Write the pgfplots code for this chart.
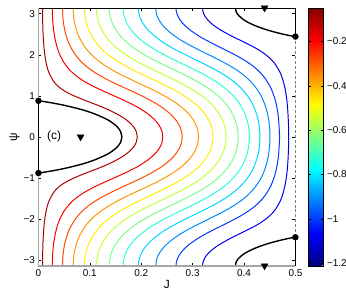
\documentclass[border=0pt]{standalone}
\usepackage{fontspec}
\setmainfont{Liberation Sans}
\usepackage{pgfplots}
\usepackage{pgfplotstable}
\pgfplotsset{compat=1.18}
\pgfplotsset{/pgf/number format/assume math mode=true,
  every tick label/.append style={font=\fontsize{10bp}{12bp}\selectfont}}
\definecolor{c1}{rgb}{0.66,0,0}
\definecolor{c2}{rgb}{0.972,0,0}
\definecolor{c3}{rgb}{1,0.284,0}
\definecolor{c4}{rgb}{1,0.596,0}
\definecolor{c5}{rgb}{1,0.93,0}
\definecolor{c6}{rgb}{0.78,1,0.22}
\definecolor{c7}{rgb}{0.468,1,0.532}
\definecolor{c8}{rgb}{0.156,1,0.844}
\definecolor{c9}{rgb}{0,0.844,1}
\definecolor{c10}{rgb}{0,0.532,1}
\definecolor{c11}{rgb}{0,0.22,1}
\definecolor{c12}{rgb}{0,0,0.908}
\begin{document}
\pgfplotstableread[row sep=\\]{J p\\
0.00794 3.1416\\ 0.008 2.983\\ 0.0085 2.674\\ 0.009 2.511\\ 0.010 2.296\\ 0.012 2.033\\ 0.015 1.801\\ 0.020 1.577\\ 0.030 1.344\\ 0.040 1.214\\ 0.050 1.124\\ 0.060 1.055\\ 0.070 0.996\\ 0.080 0.943\\ 0.090 0.893\\ 0.100 0.843\\ 0.110 0.797\\ 0.120 0.748\\ 0.130 0.695\\ 0.140 0.639\\ 0.150 0.576\\ 0.160 0.506\\ 0.170 0.425\\ 0.180 0.319\\ 0.185 0.246\\ 0.190 0.141\\ 0.1923 0\\
}\LA
\pgfplotstableread[row sep=\\]{J p\\
0.02695 3.1416\\ 0.027 3.048\\ 0.028 2.787\\ 0.030 2.554\\ 0.033 2.345\\ 0.037 2.156\\ 0.042 1.990\\ 0.050 1.804\\ 0.060 1.642\\ 0.070 1.523\\ 0.080 1.427\\ 0.090 1.346\\ 0.100 1.276\\ 0.110 1.212\\ 0.120 1.152\\ 0.130 1.095\\ 0.140 1.039\\ 0.150 0.984\\ 0.160 0.928\\ 0.170 0.869\\ 0.180 0.808\\ 0.190 0.744\\ 0.200 0.671\\ 0.210 0.588\\ 0.220 0.490\\ 0.230 0.365\\ 0.235 0.280\\ 0.240 0.149\\ 0.2419 0\\
}\LB
\pgfplotstableread[row sep=\\]{J p\\
0.04675 3.1416\\ 0.047 3.004\\ 0.048 2.847\\ 0.050 2.676\\ 0.053 2.509\\ 0.057 2.352\\ 0.062 2.206\\ 0.070 2.034\\ 0.080 1.876\\ 0.090 1.753\\ 0.100 1.653\\ 0.110 1.567\\ 0.120 1.491\\ 0.130 1.422\\ 0.140 1.358\\ 0.150 1.297\\ 0.160 1.239\\ 0.170 1.181\\ 0.180 1.124\\ 0.190 1.066\\ 0.200 1.006\\ 0.210 0.943\\ 0.220 0.876\\ 0.230 0.804\\ 0.240 0.723\\ 0.250 0.629\\ 0.260 0.517\\ 0.270 0.367\\ 0.275 0.257\\ 0.279 0.102\\ 0.2797 0\\
}\LC
\pgfplotstableread[row sep=\\]{J p\\
0.06753 3.1416\\ 0.068 2.989\\ 0.069 2.877\\ 0.071 2.740\\ 0.075 2.559\\ 0.080 2.409\\ 0.090 2.196\\ 0.100 2.043\\ 0.110 1.922\\ 0.120 1.821\\ 0.130 1.734\\ 0.140 1.656\\ 0.150 1.585\\ 0.160 1.519\\ 0.170 1.457\\ 0.180 1.397\\ 0.190 1.338\\ 0.200 1.280\\ 0.210 1.221\\ 0.220 1.161\\ 0.230 1.099\\ 0.240 1.034\\ 0.250 0.965\\ 0.260 0.889\\ 0.270 0.805\\ 0.280 0.708\\ 0.290 0.592\\ 0.300 0.439\\ 0.305 0.333\\ 0.310 0.166\\ 0.3116 0\\
}\LD
\pgfplotstableread[row sep=\\]{J p\\
0.08943 3.1416\\ 0.090 2.998\\ 0.091 2.906\\ 0.093 2.788\\ 0.097 2.632\\ 0.100 2.546\\ 0.110 2.334\\ 0.120 2.183\\ 0.130 2.062\\ 0.140 1.963\\ 0.150 1.874\\ 0.160 1.795\\ 0.170 1.724\\ 0.180 1.657\\ 0.190 1.593\\ 0.200 1.533\\ 0.220 1.414\\ 0.240 1.295\\ 0.250 1.233\\ 0.260 1.169\\ 0.270 1.101\\ 0.280 1.027\\ 0.290 0.946\\ 0.300 0.854\\ 0.310 0.749\\ 0.320 0.618\\ 0.330 0.440\\ 0.335 0.309\\ 0.339 0.122\\ 0.3397 0\\
}\LE
\pgfplotstableread[row sep=\\]{J p\\
0.1127 3.1416\\ 0.113 3.044\\ 0.115 2.885\\ 0.118 2.757\\ 0.123 2.614\\ 0.130 2.468\\ 0.140 2.314\\ 0.150 2.192\\ 0.160 2.090\\ 0.170 2.001\\ 0.180 1.923\\ 0.190 1.850\\ 0.200 1.782\\ 0.210 1.718\\ 0.220 1.657\\ 0.230 1.597\\ 0.240 1.538\\ 0.250 1.478\\ 0.260 1.418\\ 0.270 1.356\\ 0.280 1.292\\ 0.290 1.223\\ 0.300 1.150\\ 0.310 1.070\\ 0.320 0.981\\ 0.330 0.878\\ 0.340 0.754\\ 0.350 0.596\\ 0.355 0.492\\ 0.360 0.354\\ 0.363 0.230\\ 0.365 0.062\\ 0.3651 0\\
}\LF
\pgfplotstableread[row sep=\\]{J p\\
0.1376 3.1416\\ 0.138 3.043\\ 0.140 2.906\\ 0.143 2.791\\ 0.148 2.660\\ 0.155 2.528\\ 0.165 2.384\\ 0.180 2.219\\ 0.190 2.128\\ 0.200 2.047\\ 0.210 1.974\\ 0.220 1.905\\ 0.230 1.840\\ 0.240 1.778\\ 0.250 1.718\\ 0.260 1.658\\ 0.270 1.598\\ 0.280 1.537\\ 0.290 1.475\\ 0.300 1.410\\ 0.310 1.342\\ 0.320 1.269\\ 0.330 1.188\\ 0.340 1.099\\ 0.350 0.996\\ 0.360 0.874\\ 0.370 0.720\\ 0.375 0.622\\ 0.380 0.501\\ 0.385 0.328\\ 0.388 0.136\\ 0.3886 0\\
}\LG
\pgfplotstableread[row sep=\\]{J p\\
0.1646 3.1416\\ 0.165 3.053\\ 0.167 2.928\\ 0.170 2.823\\ 0.175 2.702\\ 0.183 2.563\\ 0.195 2.410\\ 0.210 2.261\\ 0.220 2.178\\ 0.230 2.102\\ 0.240 2.032\\ 0.250 1.966\\ 0.260 1.903\\ 0.270 1.841\\ 0.280 1.781\\ 0.290 1.721\\ 0.300 1.660\\ 0.310 1.597\\ 0.320 1.532\\ 0.330 1.463\\ 0.340 1.389\\ 0.350 1.308\\ 0.360 1.218\\ 0.370 1.113\\ 0.380 0.988\\ 0.390 0.831\\ 0.395 0.733\\ 0.400 0.613\\ 0.405 0.450\\ 0.408 0.306\\ 0.410 0.134\\ 0.4105 0\\
}\LH
\pgfplotstableread[row sep=\\]{J p\\
0.1944 3.1416\\ 0.195 3.037\\ 0.197 2.935\\ 0.200 2.842\\ 0.205 2.733\\ 0.213 2.607\\ 0.225 2.464\\ 0.240 2.323\\ 0.250 2.244\\ 0.260 2.171\\ 0.270 2.103\\ 0.280 2.038\\ 0.290 1.976\\ 0.300 1.915\\ 0.310 1.854\\ 0.320 1.793\\ 0.330 1.730\\ 0.340 1.664\\ 0.350 1.595\\ 0.360 1.520\\ 0.370 1.438\\ 0.380 1.346\\ 0.390 1.238\\ 0.400 1.109\\ 0.410 0.943\\ 0.415 0.838\\ 0.420 0.709\\ 0.425 0.535\\ 0.428 0.385\\ 0.430 0.226\\ 0.4311 0\\
}\LI
\pgfplotstableread[row sep=\\]{J p\\
0.228 3.1416\\ 0.230 2.978\\ 0.233 2.884\\ 0.238 2.781\\ 0.245 2.672\\ 0.255 2.554\\ 0.270 2.415\\ 0.280 2.336\\ 0.290 2.264\\ 0.300 2.197\\ 0.310 2.133\\ 0.320 2.070\\ 0.330 2.009\\ 0.340 1.947\\ 0.350 1.884\\ 0.360 1.819\\ 0.370 1.750\\ 0.380 1.675\\ 0.390 1.592\\ 0.400 1.498\\ 0.410 1.387\\ 0.420 1.250\\ 0.430 1.071\\ 0.435 0.955\\ 0.440 0.808\\ 0.445 0.603\\ 0.448 0.415\\ 0.450 0.192\\ 0.4505 0\\
}\LJ
\pgfplotstableread[row sep=\\]{J p\\
0.2677 3.1416\\ 0.268 3.081\\ 0.270 2.982\\ 0.273 2.901\\ 0.278 2.809\\ 0.285 2.711\\ 0.295 2.604\\ 0.310 2.475\\ 0.320 2.399\\ 0.330 2.332\\ 0.340 2.267\\ 0.350 2.204\\ 0.360 2.143\\ 0.370 2.080\\ 0.380 2.016\\ 0.390 1.948\\ 0.400 1.875\\ 0.410 1.794\\ 0.420 1.700\\ 0.430 1.587\\ 0.440 1.444\\ 0.450 1.246\\ 0.455 1.110\\ 0.460 0.929\\ 0.464 0.721\\ 0.467 0.476\\ 0.469 0.101\\ 0.4691 0\\
}\LK
\pgfplotstableread[row sep=\\]{J p\\
0.3192 3.1416\\ 0.320 3.059\\ 0.322 2.989\\ 0.326 2.904\\ 0.333 2.803\\ 0.343 2.699\\ 0.355 2.600\\ 0.370 2.495\\ 0.380 2.430\\ 0.390 2.370\\ 0.400 2.308\\ 0.410 2.246\\ 0.420 2.181\\ 0.430 2.108\\ 0.440 2.024\\ 0.450 1.922\\ 0.460 1.784\\ 0.470 1.576\\ 0.475 1.415\\ 0.480 1.169\\ 0.483 0.931\\ 0.485 0.677\\ 0.4865 0.316\\ 0.4869 0\\
}\LL
\pgfplotstableread[row sep=\\]{J p\\
0 0.880\\ 0.010 0.862\\ 0.030 0.820\\ 0.050 0.770\\ 0.070 0.711\\ 0.090 0.643\\ 0.110 0.557\\ 0.130 0.447\\ 0.140 0.378\\ 0.150 0.284\\ 0.155 0.221\\ 0.160 0.127\\ 0.1623 0\\
}\BL
\pgfplotstableread[row sep=\\]{J p\\
0.3831 3.1416\\ 0.385 3.039\\ 0.390 2.952\\ 0.400 2.848\\ 0.410 2.777\\ 0.420 2.718\\ 0.430 2.670\\ 0.440 2.626\\ 0.450 2.587\\ 0.460 2.553\\ 0.470 2.520\\ 0.480 2.491\\ 0.490 2.465\\ 0.500 2.445\\
}\BR
\newcommand{\cont}[3]{%
  \addplot[color=#1, line width=#3, smooth] table[x=J,y=p]{#2};
  \addplot[color=#1, line width=#3, smooth] table[x=J,y expr=-\thisrow{p}]{#2};
}
\begin{tikzpicture}
\begin{axis}[
  at={(36bp,30bp)}, anchor=south west,
  scale only axis, width=259bp, height=260bp,
  xmin=0, xmax=0.5, ymin=-3.14159, ymax=3.14159,
  xtick={0,0.1,0.2,0.3,0.4,0.5}, ytick={-3,-2,-1,0,1,2,3},
  yticklabels={−3,−2,−1,0,1,2,3},
  tick align=inside, major tick length=3bp,
  tick style={black, line width=0.5bp},
  axis line style={draw=none},
  clip=false,
  xlabel={J}, ylabel={ψ},
  label style={font=\fontsize{12bp}{14bp}\selectfont},
  xlabel style={at={(axis description cs:0.5,-0.073)}, anchor=center},
  ylabel style={at={(axis description cs:-0.093,0.5)}, anchor=center},
  colorbar,
  colormap/jet,
  point meta min=-1.212, point meta max=-0.049,
  colorbar style={at={(parent axis.north east)}, anchor=north west,
    xshift=4.4bp, width=15.6bp,
    ytick={-1.2,-1,-0.8,-0.6,-0.4,-0.2},
    yticklabels={−1.2,−1,−0.8,−0.6,−0.4,−0.2},
    tick align=inside, major tick length=3bp,
    axis line style={black, line width=0.5bp}},
]
\cont{c1}{\LA}{1bp}
\cont{c2}{\LB}{1bp}
\cont{c3}{\LC}{1bp}
\cont{c4}{\LD}{1bp}
\cont{c5}{\LE}{1bp}
\cont{c6}{\LF}{1bp}
\cont{c7}{\LG}{1bp}
\cont{c8}{\LH}{1bp}
\cont{c9}{\LI}{1bp}
\cont{c10}{\LJ}{1bp}
\cont{c11}{\LK}{1bp}
\cont{c12}{\LL}{1bp}
\cont{black}{\BL}{1.4bp}
\cont{black}{\BR}{1.4bp}
% frame
\addplot[black, line width=0.8bp] coordinates {(0,3.14159) (0.5,3.14159)};
\addplot[gray!70, line width=1.8bp] coordinates {(0,-3.14159) (0.5,-3.14159)};
\addplot[gray!70, line width=1.8bp] coordinates {(0,0.88) (0,3.14159)};
\addplot[gray!70, line width=1.8bp] coordinates {(0,-0.88) (0,-3.14159)};
\addplot[black, line width=1.2bp] coordinates {(0,-0.88) (0,0.88)};
\addplot[gray, line width=1bp, dash pattern=on 3bp off 2bp] coordinates {(0.5,-2.445) (0.5,2.445)};
\addplot[black, line width=1.2bp] coordinates {(0.5,2.445) (0.5,3.14159)};
\addplot[black, line width=1.2bp] coordinates {(0.5,-2.445) (0.5,-3.14159)};
% markers
\addplot[only marks, mark=*, mark size=3bp, black] coordinates {(0,0.88) (0,-0.88) (0.5,2.445) (0.5,-2.445)};
\addplot[only marks, mark=triangle*, mark size=4bp, mark options={rotate=180}, black] coordinates {(0.082,0) (0.44,3.14159) (0.44,-3.14159)};
\node[anchor=west, font=\fontsize{12bp}{14bp}\selectfont] at (axis cs:0.01,0) {(c)};
\end{axis}
\pgfresetboundingbox
\path[use as bounding box] (0,0) rectangle (346bp,298bp);
\end{tikzpicture}
\end{document}
